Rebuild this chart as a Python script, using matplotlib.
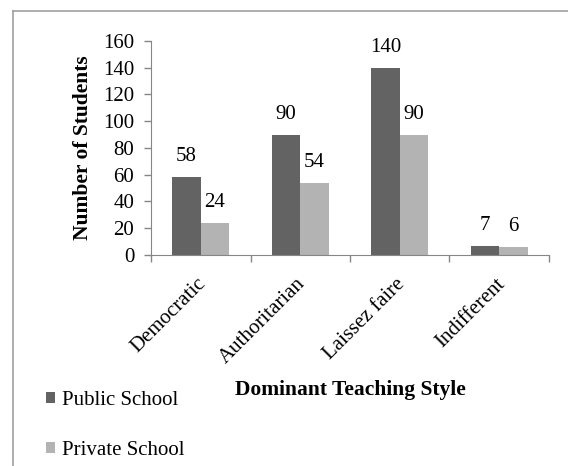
import numpy as np
import matplotlib
matplotlib.use("Agg")
import matplotlib.pyplot as plt
import matplotlib.transforms as mtransforms
from matplotlib.lines import Line2D

plt.rcParams['font.family'] = ['Liberation Serif', 'DejaVu Serif']

# data
styles = ['Democratic', 'Authoritarian', 'Laissez faire', 'Indifferent']
public_school = [58, 90, 140, 7]
private_school = [24, 54, 90, 6]

c_public = '#636363'
c_private = '#b3b3b3'
c_axis = '#868686'
fs = 15

W, H = 568, 466
fig = plt.figure(figsize=(W / 100, H / 100), dpi=100)
ax = fig.add_axes([151 / W, 1 - 255 / H, (549 - 151) / W, (255 - 41) / H])

x = np.arange(len(styles))
bw = 1 / 3.5
b1 = ax.bar(x - bw / 2, public_school, bw, color=c_public, label='Public School')
b2 = ax.bar(x + bw / 2, private_school, bw, color=c_private, label='Private School')

for bars, vals in [(b1, public_school), (b2, private_school)]:
    for b, v in zip(bars, vals):
        ax.annotate(str(v), (b.get_x() + b.get_width() / 2, v), xytext=(0, 8),
                    textcoords='offset points', ha='center', va='bottom', fontsize=fs)

ax.set_xlim(-0.5, len(styles) - 0.5)
ax.set_ylim(0, 160)
ax.set_yticks(range(0, 161, 20))
ax.tick_params(axis='y', labelsize=fs, color=c_axis, length=5, width=1, pad=7)
ax.set_xticks(np.arange(len(styles) + 1) - 0.5)
ax.set_xticklabels([])
ax.tick_params(axis='x', color=c_axis, length=5, width=1)
ax.set_xticks(x, minor=True)
ax.set_xticklabels(styles, minor=True, rotation=45, ha='right', rotation_mode='anchor', fontsize=fs)
ax.tick_params(axis='x', which='minor', length=0, pad=14)
shift = mtransforms.ScaledTranslation(-4 / 100, 0, fig.dpi_scale_trans)
for lab in ax.get_xticklabels(minor=True):
    lab.set_transform(lab.get_transform() + shift)

for s in ['top', 'right']:
    ax.spines[s].set_visible(False)
for s in ['left', 'bottom']:
    ax.spines[s].set_color(c_axis)

fig.text(83 / W, 1 - 148 / H, 'Number of Students', fontsize=15.5, fontweight='bold',
         rotation=90, ha='center', va='center')
fig.text(350 / W, 1 - 390 / H, 'Dominant Teaching Style', fontsize=15.5, fontweight='bold',
         ha='center', va='center')

fig.legend(handles=[b1, b2], loc='upper left', bbox_to_anchor=(46 / W, 1 - 391 / H),
           frameon=False, fontsize=fs, handlelength=0.45, handleheight=0.45,
           handletextpad=0.3, labelspacing=1.5, borderaxespad=0, borderpad=0)

# outer frame
fig.add_artist(Line2D([12.5 / W, 12.5 / W], [0, 1 - 11 / H], color='#a0a0a0', lw=1.2))
fig.add_artist(Line2D([12.5 / W, 1], [1 - 11 / H, 1 - 11 / H], color='#a0a0a0', lw=1.2))

fig.savefig('out.png', dpi=100)
